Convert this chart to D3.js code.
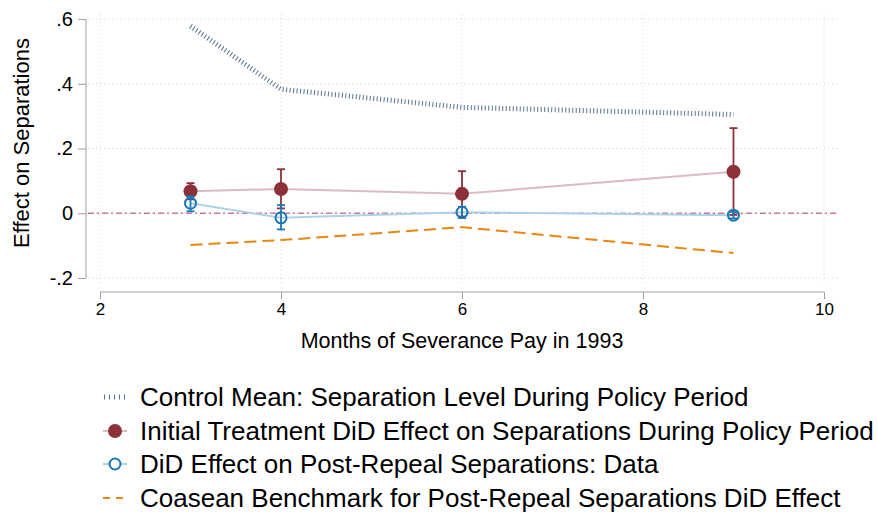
<!DOCTYPE html>
<html>
<head>
<meta charset="utf-8">
<script src="https://cdn.jsdelivr.net/npm/d3@7"></script>
<style>
  body { margin: 0; background: #fff; }
  text { font-family: "Liberation Sans", Arial, sans-serif; }
</style>
</head>
<body>
<script>
// values
const months = [3, 4, 6, 9];
const controlMean = [0.578, 0.383, 0.327, 0.305];
const initialEffect = [0.068, 0.075, 0.060, 0.128];
const initialLo = [0.043, 0.015, -0.010, -0.005];
const initialHi = [0.093, 0.136, 0.130, 0.263];
const postEffect = [0.031, -0.014, 0.003, -0.006];
const postLo = [0.006, -0.050, -0.015, -0.016];
const postHi = [0.052, 0.025, 0.020, 0.004];
const coasean = [-0.098, -0.083, -0.043, -0.123];
const xTicks = [2, 4, 6, 8, 10];
const yTicks = [-0.2, 0, 0.2, 0.4, 0.6];
const yTickLabels = ["-.2", "0", ".2", ".4", ".6"];
const legendLabels = [
  "Control Mean: Separation Level During Policy Period",
  "Initial Treatment DiD Effect on Separations During Policy Period",
  "DiD Effect on Post-Repeal Separations: Data",
  "Coasean Benchmark for Post-Repeal Separations DiD Effect"
];

const W = 878, H = 516;
const FONT = "'Liberation Sans', Arial, sans-serif";
const svg = d3.select("body").append("svg").attr("width", W).attr("height", H);

const x = d3.scaleLinear().domain([2, 10]).range([100, 824]);
const y = d3.scaleLinear().domain([-0.2, 0.6]).range([278, 19]);
const left = 88, right = 838;

// grid
svg.append("g").selectAll("line").data(yTicks).join("line")
  .attr("x1", left).attr("x2", right)
  .attr("y1", d => y(d)).attr("y2", d => y(d))
  .attr("stroke", "#d6d6d6").attr("stroke-width", 1).attr("stroke-dasharray", "1 3");
svg.append("g").selectAll("line").data(xTicks).join("line")
  .attr("x1", d => x(d)).attr("x2", d => x(d))
  .attr("y1", 14).attr("y2", 286)
  .attr("stroke", "#d6d6d6").attr("stroke-width", 1).attr("stroke-dasharray", "1 3");

// y axis
const yAxis = svg.append("g").attr("transform", "translate(86,0)")
  .call(d3.axisLeft(y).tickValues(yTicks).tickSize(8).tickPadding(5)
    .tickFormat((d, i) => yTickLabels[i]));
yAxis.attr("font-family", FONT);
yAxis.select(".domain").attr("stroke", "#a0a0a0").attr("d", "M0," + y(0.6) + "V" + y(-0.2));
yAxis.selectAll(".tick line").attr("stroke", "#a0a0a0");
yAxis.selectAll(".tick text").attr("font-size", 20).attr("fill", "#000");

// x axis
const xAxis = svg.append("g").attr("transform", "translate(0,292)")
  .call(d3.axisBottom(x).tickValues(xTicks).tickSize(7).tickPadding(4));
xAxis.attr("font-family", FONT);
xAxis.select(".domain").attr("stroke", "#a0a0a0").attr("d", "M" + x(2) + ",0H" + x(10));
xAxis.selectAll(".tick line").attr("stroke", "#a0a0a0");
xAxis.selectAll(".tick text").attr("font-size", 17).attr("fill", "#000");

svg.append("text").attr("x", 462).attr("y", 348).attr("text-anchor", "middle")
  .attr("font-size", 21.5).text("Months of Severance Pay in 1993");
svg.append("text").attr("transform", "translate(29,143) rotate(-90)")
  .attr("text-anchor", "middle").attr("font-size", 22).text("Effect on Separations");

// zero reference line
svg.append("line").attr("x1", left).attr("x2", right).attr("y1", y(0)).attr("y2", y(0))
  .attr("stroke", "#c97a9e").attr("stroke-width", 1.3).attr("stroke-dasharray", "6 3 2 3");

const line = d3.line().x(d => x(d[0])).y(d => y(d[1]));
const pts = arr => months.map((m, i) => [m, arr[i]]);

// control mean
svg.append("path").datum(pts(controlMean)).attr("d", line)
  .attr("fill", "none").attr("stroke", "#55718f").attr("stroke-width", 5)
  .attr("stroke-dasharray", "1 2.5");

// coasean benchmark
svg.append("path").datum(pts(coasean)).attr("d", line)
  .attr("fill", "none").attr("stroke", "#e8870f").attr("stroke-width", 2)
  .attr("stroke-dasharray", "12 6");

// connecting lines
svg.append("path").datum(pts(initialEffect)).attr("d", line)
  .attr("fill", "none").attr("stroke", "#dcbcc1").attr("stroke-width", 2);
svg.append("path").datum(pts(postEffect)).attr("d", line)
  .attr("fill", "none").attr("stroke", "#abd2ea").attr("stroke-width", 2);

// error bars
function errorBars(lo, hi, color) {
  const g = svg.append("g").attr("stroke", color).attr("stroke-width", 1.8);
  months.forEach((m, i) => {
    g.append("line").attr("x1", x(m)).attr("x2", x(m)).attr("y1", y(lo[i])).attr("y2", y(hi[i]));
    [lo[i], hi[i]].forEach(v => g.append("line")
      .attr("x1", x(m) - 4).attr("x2", x(m) + 4).attr("y1", y(v)).attr("y2", y(v)));
  });
}
errorBars(initialLo, initialHi, "#8c3039");
svg.append("g").selectAll("circle").data(pts(initialEffect)).join("circle")
  .attr("cx", d => x(d[0])).attr("cy", d => y(d[1])).attr("r", 7).attr("fill", "#8c3039");

errorBars(postLo, postHi, "#1a78b8");
svg.append("g").selectAll("circle").data(pts(postEffect)).join("circle")
  .attr("cx", d => x(d[0])).attr("cy", d => y(d[1])).attr("r", 5.5)
  .attr("fill", "none").attr("stroke", "#1a78b8").attr("stroke-width", 2);

// legend
const leg = svg.append("g");
const rowY = [397, 431, 464, 498];
legendLabels.forEach((t, i) => {
  const g = leg.append("g").attr("transform", "translate(0," + rowY[i] + ")");
  if (i === 0) {
    g.append("line").attr("x1", 104).attr("x2", 126).attr("stroke", "#55718f")
      .attr("stroke-width", 5).attr("stroke-dasharray", "1 4");
  } else if (i === 1) {
    g.append("line").attr("x1", 103).attr("x2", 127).attr("stroke", "#dcbcc1").attr("stroke-width", 2);
    g.append("circle").attr("cx", 115).attr("r", 7).attr("fill", "#8c3039");
  } else if (i === 2) {
    g.append("line").attr("x1", 103).attr("x2", 127).attr("stroke", "#abd2ea").attr("stroke-width", 2);
    g.append("circle").attr("cx", 115).attr("r", 5.5).attr("fill", "#fff")
      .attr("stroke", "#1a78b8").attr("stroke-width", 2);
  } else {
    g.append("line").attr("x1", 103).attr("x2", 127).attr("stroke", "#e8870f")
      .attr("stroke-width", 2).attr("stroke-dasharray", "7 6");
  }
  g.append("text").attr("x", 140).attr("dy", "0.35em").attr("font-size", 26).text(t);
});
</script>
</body>
</html>
